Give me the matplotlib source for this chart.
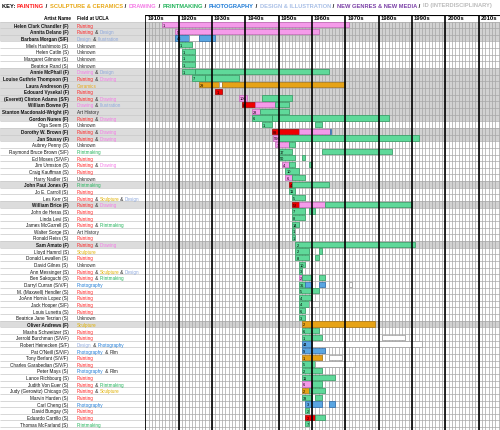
import matplotlib.pyplot as plt

# ---- data ----
names = [
    "Helen Clark Chandler (F)", "Annita Delano (F)", "Barbara Morgan (S/F)",
    "Miels Hashimoto (S)", "Helen Catlin (S)", "Margaret Gilmore (S)",
    "Beatrice Rand (S)", "Annie McPhail (F)", "Louise Guthrie Thompson (F)",
    "Laura Andreson (F)", "Edouard Vysekal (F)", "(Everett) Clinton Adams (S/F)",
    "William Bowne (F)", "Stanton Macdonald-Wright (F)", "Gordon Nunes (F)",
    "Olga Seem (S)", "Dorothy W. Brown (F)", "Jan Stussy (F)", "Aubrey Penny (S)",
    "Raymond Bruce Brown (S/F)", "Ed Moses (S/V/F)", "Jim Urmston (S)",
    "Craig Kauffman (S)", "Harry Nadler (S)", "John Paul Jones (F)",
    "Jo E. Carroll (S)", "Les Kerr (S)", "William Brice (F)", "John de Heras (S)",
    "Linda Levi (S)", "James McGarrell (S)", "Walter Sorge (S)", "Ronald Reiss (S)",
    "Sam Amato (F)", "Lloyd Hamrol (S)", "Donald Lewallen (S)", "David Gilnes (S)",
    "Ann Messinger (S)", "Ben Sakoguchi (S)", "Darryl Curran (S/V/F)",
    "M. (Maxwell) Hendler (S)", "JoAnn Hornis Lopez (S)", "Jack Hooper (S/F)",
    "Louis Lunetta (S)", "Beatrice Jane Terzian (S)", "Oliver Andrews (F)",
    "Masha Schweitzer (S)", "Jerrold Burchman (S/V/F)", "Robert Heinecken (S/F)",
    "Pat O'Neill (S/V/F)", "Tony Berlant (S/V/F)", "Charles Garabedian (S/V/F)",
    "Peter Mays (S)", "Lance Richbourg (S)", "Judith Von Euer (S)",
    "Judy (Gerowitz) Chicago (S)", "Marvin Harden (S)", "Carl Cheng (S)",
    "David Bungay (S)", "Eduardo Carrillo (S)", "Thomas McFarland (S)",
]

bold_rows = [0, 1, 2, 7, 8, 9, 10, 11, 12, 13, 14, 16, 17, 24, 27, 33, 45]

fields = [
    ["Painting"], ["Painting", "Design"], ["Design", "Illustration"],
    ["Unknown"], ["Unknown"], ["Unknown"], ["Unknown"],
    ["Drawing", "Design"], ["Painting", "Drawing"], ["Ceramics"], ["Painting"],
    ["Painting", "Drawing"], ["Drawing", "Illustration"], ["Art History"],
    ["Painting", "Drawing"], ["Unknown"], ["Painting", "Drawing"],
    ["Painting", "Drawing"], ["Unknown"], ["Printmaking"], ["Painting"],
    ["Painting", "Drawing"], ["Painting"], ["Unknown"], ["Printmaking"],
    ["Painting"], ["Painting", "Sculpture", "Design"], ["Painting", "Drawing"],
    ["Painting"], ["Painting"], ["Painting", "Printmaking"], ["Art History"],
    ["Painting"], ["Painting", "Drawing"], ["Sculpture"], ["Painting"],
    ["Unknown"], ["Painting", "Sculpture", "Design"], ["Painting", "Printmaking"],
    ["Photography"], ["Painting"], ["Painting"], ["Painting"], ["Painting"],
    ["Unknown"], ["Sculpture"], ["Painting"], ["Painting"],
    ["Design", "Photography"], ["Photography", "Film"], ["Painting"],
    ["Painting"], ["Photography", "Film"], ["Painting"], ["Painting", "Printmaking"],
    ["Painting", "Sculpture"], ["Painting"], ["Photography"], ["Painting"],
    ["Painting"], ["Printmaking"],
]

counts = [1, 5, 48, 1, 1, 1, 1, 1, 7, 29, 1, 106, 8, 28, 6, 1, 89, 566, 7, 17,
          50, 4, 10, 6, 4, 11, 5, 52, 7, 8, 14, 1, 1, 2, 2, 8, 10, 3, 2, 36,
          5, 4, 4, 6, 3, 2, 6, 1, 44, 9, 1, 5, 2, 11, 6, 2, 33, 3, 2, 2, 7]

# (start year, end year, kind)
segments = [
    [(1915, 1971, "P")],
    [(1919, 1962, "P")],
    [(1919, 1923, "B"), (1923, 1926, "W"), (1926, 1931, "B")],
    [(1920, 1924, "G")],
    [(1921, 1925, "G")],
    [(1921, 1925, "G")],
    [(1921, 1925, "G")],
    [(1921, 1925, "G"), (1925, 1965, "G")],
    [(1924, 1928, "G"), (1928, 1938, "G")],
    [(1926, 1932, "O"), (1932, 1933, "W"), (1933, 1970, "O")],
    [(1931, 1933, "R")],
    [(1938, 1940.4, "P"), (1945, 1954, "G")],
    [(1939, 1943, "R"), (1943, 1949, "P"), (1949, 1953, "G")],
    [(1942, 1944.4, "P"), (1944.4, 1953, "G")],
    [(1942, 1948, "G"), (1948, 1983, "G")],
    [(1945, 1948, "G"), (1961, 1963, "G")],
    [(1948, 1956, "R"), (1956, 1965.3, "P"), (1965.3, 1965.8, "B")],
    [(1948.3, 1950, "P"), (1950, 1992, "G")],
    [(1949, 1953, "P"), (1953, 1955, "G")],
    [(1950, 1954, "G"), (1963, 1984, "G")],
    [(1950, 1955, "G"), (1957, 1958, "G")],
    [(1951, 1953, "P"), (1953, 1955, "G"), (1959, 1960, "G")],
    [(1952, 1956, "G")],
    [(1952, 1954, "P"), (1954, 1958, "G")],
    [(1953, 1954, "R"), (1954, 1965, "G")],
    [(1953, 1955, "G")],
    [(1954, 1958, "G")],
    [(1954, 1956, "R"), (1956, 1964, "P"), (1964, 1990, "G")],
    [(1954, 1958, "G"), (1959, 1961, "G")],
    [(1954, 1958, "G")],
    [(1954, 1956, "G")],
    [(1954, 1955, "G"), (1955, 1956, "W")],
    [(1954, 1955, "G")],
    [(1955, 1991, "G")],
    [(1955, 1959, "G"), (1962, 1963, "G")],
    [(1955, 1959, "G"), (1961, 1962, "G")],
    [(1956, 1958, "G")],
    [(1956, 1957, "G")],
    [(1956, 1957, "P"), (1957, 1960, "G"), (1962, 1964, "G")],
    [(1956, 1958, "G"), (1958, 1960, "B"), (1962, 1964, "B"), (1971, 1972, "E")],
    [(1956, 1960, "G"), (1960, 1962, "G")],
    [(1956, 1960, "G")],
    [(1956, 1959, "G"), (1959, 1962, "W")],
    [(1956, 1958, "G")],
    [(1956, 1958, "G")],
    [(1957, 1979, "O")],
    [(1957, 1962, "G")],
    [(1957, 1963, "G"), (1981, 1988, "W")],
    [(1957, 1960, "B"), (1960, 1993, "W")],
    [(1957, 1964, "B")],
    [(1957, 1963, "O"), (1965, 1969, "W")],
    [(1957, 1961, "G"), (1961, 1973, "W")],
    [(1957, 1963, "G")],
    [(1957, 1967, "G")],
    [(1957, 1960, "P"), (1960, 1963, "G")],
    [(1957, 1959, "O"), (1959, 1964, "G")],
    [(1957, 1960, "G"), (1961, 1963, "G")],
    [(1958, 1963, "B"), (1965, 1967, "B")],
    [(1958, 1959, "G")],
    [(1958, 1961, "R"), (1961, 1964, "G")],
    [(1958, 1959, "G")],
]

decades = ["1910s", "1920s", "1930s", "1940s", "1950s", "1960s",
           "1970s", "1980s", "1990s", "2000s", "2010s"]

key_parts = [
    ("KEY: ", "black"), ("PAINTING", "#FF2020"), (" / ", "black"),
    ("SCULPTURE & CERAMICS", "#E8A817"), (" / ", "black"),
    ("DRAWING", "#F57BE6"), (" / ", "black"),
    ("PRINTMAKING", "#22B35A"), (" / ", "black"),
    ("PHOTOGRAPHY", "#1C7AD6"), (" / ", "black"),
    ("DESIGN & ILLUSTRATION", "#A8BFE6"), (" / ", "black"),
    ("NEW GENRES & NEW MEDIA", "#7A3FA6"), (" / ", "black"),
    ("ID (INTERDISCIPLINARY)", "#BBBBBB"),
]

field_colors = {
    "Painting": "#FF2020", "Drawing": "#F57BE6", "Design": "#8EA9DD",
    "Illustration": "#8EA9DD", "Ceramics": "#E8A817", "Sculpture": "#E0B000",
    "Printmaking": "#22B35A", "Photography": "#1C7AD6",
    "Unknown": "#222222", "Art History": "#222222", "Film": "#222222",
}

bar_style = {
    "P": ("#F59BEA", "#C466B8"),
    "G": ("#5FD99A", "#2F9A60"),
    "B": ("#5AA6E2", "#2A6AA8"),
    "O": ("#E6A317", "#A87410"),
    "R": ("#EE0000", "#A00000"),
    "W": ("#FFFFFF", "#999999"),
    "E": ("none", "#999999"),
}

# ---- layout ----
W, H = 500, 431
fig = plt.figure(figsize=(W / 100, H / 100), dpi=100)
plt.rcParams["font.family"] = ["Liberation Sans", "DejaVu Sans"]

x0 = 145.3          # pixel where 1910 starts
px_year = 3.333
row_px = 6.65
hdr_top = 15.5
first_row_top = 22.5
y_bottom = (H - first_row_top) / row_px
y_top = -(first_row_top - hdr_top) / row_px
ax_h = (H - hdr_top) / H

ax = fig.add_axes([x0 / W, 0, 1 - x0 / W, ax_h])
at = fig.add_axes([0, 0, x0 / W, ax_h])
xmax = 1910 + (W - x0) / px_year
ax.set_xlim(1910, xmax)
for a in (ax, at):
    a.set_ylim(y_bottom, y_top)
    a.axis("off")
at.set_xlim(0, x0)

n = len(names)
gray = "#D2D2D2"

# row backgrounds
for i in range(n):
    if i in bold_rows:
        ax.axhspan(i, i + 1, color=gray, lw=0, zorder=0)
        at.axhspan(i, i + 1, color="#DCDCDC", lw=0, zorder=0)

# grid
for yr in range(1910, int(xmax) + 1):
    ax.vlines(yr, 0, y_bottom, color="#A5A5A5", lw=0.5, zorder=1)
for k in range(len(decades) + 1):
    yr = 1910 + 10 * k
    ax.vlines(yr, y_top, y_bottom, color="black", lw=1.2, zorder=3)
for i in range(n + 1):
    ax.hlines(i, 1910, xmax, color="#A8A8A8", lw=0.5, zorder=1)
    at.hlines(i, 0, x0, color="#C8C8C8", lw=0.5, zorder=1)
ax.hlines(y_top, 1910, xmax, color="black", lw=0.8, zorder=3)

# header
for k, lab in enumerate(decades):
    ax.text(1910 + 10 * k + 0.6, y_top / 2, lab, fontsize=4.2, fontweight="bold",
            va="center", ha="left", zorder=4)
at.text(71, y_top / 2, "Artist Name", fontsize=3.4, fontweight="bold",
        ha="right", va="center")
at.text(77, y_top / 2, "Field at UCLA", fontsize=3.4, fontweight="bold",
        ha="left", va="center")

# bars
for i, segs in enumerate(segments):
    for s, e, kind in segs:
        fc, ec = bar_style[kind]
        ax.barh(i + 0.5, e - s, left=s, height=0.8, color=fc, edgecolor=ec,
                lw=0.5, zorder=2)
    ax.text(segs[0][0] + 0.35, i + 0.55, str(counts[i]), fontsize=2.8,
            va="center", ha="left", zorder=4)

# names and fields
fig.canvas.draw()
r = fig.canvas.get_renderer()
for i, nm in enumerate(names):
    wt = "bold" if i in bold_rows else "normal"
    at.text(68.5, i + 0.55, nm, fontsize=3.3, fontweight=wt, ha="right",
            va="center", color="#111111")
    xpos = 77
    parts = []
    for j, f in enumerate(fields[i]):
        if j > 0:
            parts.append((" & ", "#222222"))
        parts.append((f, field_colors[f]))
    for txt, col in parts:
        t = at.text(xpos, i + 0.55, txt, fontsize=3.3, ha="left", va="center",
                    color=col)
        bb = t.get_window_extent(renderer=r)
        xpos += bb.width

# key
xk = 2
for txt, col in key_parts:
    t = fig.text(xk / W, 1 - 6 / H, txt, fontsize=4.15, fontweight="bold",
                 color=col, ha="left", va="center")
    bb = t.get_window_extent(renderer=r)
    xk += bb.width + (1.0 if txt.strip() == "/" else 0)

fig.savefig("out.png", dpi=100)
